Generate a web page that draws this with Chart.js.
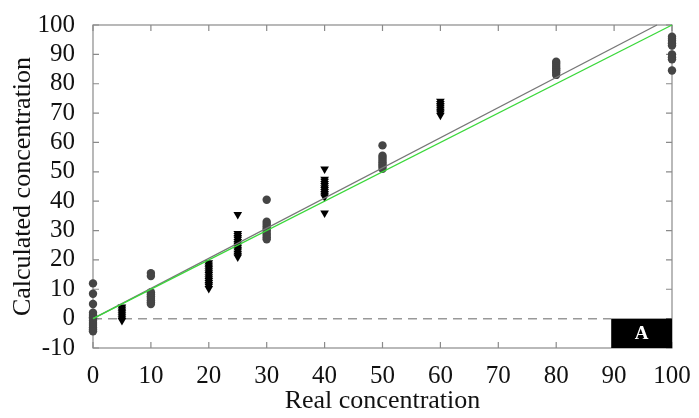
<!DOCTYPE html>
<html>
<head>
<meta charset="utf-8">
<script src="https://cdn.jsdelivr.net/npm/chart.js@4"></script>
<style>
  body { margin: 0; background: #fff; }
</style>
</head>
<body>
<canvas id="chartConcentration" width="699" height="418"></canvas>
<script>
// measured samples, grouped by real concentration
var circleLevels = [0, 10, 30, 50, 80, 100];
var circleValues = [
  [12, 8.5, 5, 2, 1.2, 0.5, 0, -0.7, -1.5, -2.2, -3, -3.7, -4.3],
  [15.5, 14.5, 9, 8.3, 7.6, 7, 6.3, 5.6, 5],
  [40.5, 33, 32.2, 31.5, 30.7, 30, 29.2, 28.5, 27.7, 27],
  [59, 55.5, 54.8, 54, 53.3, 52.5, 51.8, 51],
  [87.5, 86.8, 86, 85.3, 84.6, 83.8, 83],
  [96, 95.3, 94.6, 93.8, 93, 90, 89, 88.3, 84.5]
];
var triangleLevels = [5, 20, 25, 40, 60];
var triangleValues = [
  [4, 3.3, 2.6, 2, 1.3, 0.6, 0, -0.6],
  [19, 18.3, 17.6, 17, 16.3, 15.6, 15, 14.3, 13.6, 13, 12.3, 11.6, 11, 10.3],
  [35.5, 29, 28.3, 27.6, 27, 26.3, 25.6, 25, 24.3, 23.6, 23, 22.3, 21.6, 21],
  [51, 47.5, 46.8, 46, 45.3, 44.6, 44, 43.3, 42.6, 42, 41.4, 36],
  [74, 73.3, 72.6, 72, 71.3, 70.6, 70, 69.3]
];
// ideal line and fitted line
var idealLine = [{x: 0, y: 0}, {x: 100, y: 100}];
var fitLine = [{x: 0, y: 0}, {x: 97.4, y: 100}];
var xTicks = [0, 10, 20, 30, 40, 50, 60, 70, 80, 90, 100];
var yTicks = [-10, 0, 10, 20, 30, 40, 50, 60, 70, 80, 90, 100];
var panelLabel = 'A';

function toPoints(levels, values) {
  var pts = [];
  levels.forEach(function(lvl, i) {
    values[i].forEach(function(v) {
      pts.push({x: lvl, y: v});
    });
  });
  return pts;
}

var axisColor = '#8a8a8a';
var serif = '"Liberation Serif", "DejaVu Serif", serif';

// frame, inward ticks, zero line and the panel tag
var framePlugin = {
  id: 'frame',
  beforeDatasetsDraw: function(chart) {
    var ctx = chart.ctx;
    var xs = chart.scales.x, ys = chart.scales.y;
    var a = chart.chartArea;
    ctx.save();
    // dashed zero line
    ctx.strokeStyle = '#999';
    ctx.lineWidth = 1.5;
    ctx.setLineDash([9, 6]);
    ctx.beginPath();
    ctx.moveTo(xs.getPixelForValue(0), ys.getPixelForValue(0));
    ctx.lineTo(xs.getPixelForValue(89.5), ys.getPixelForValue(0));
    ctx.stroke();
    ctx.setLineDash([]);
    // box
    ctx.strokeStyle = axisColor;
    ctx.lineWidth = 1.2;
    ctx.strokeRect(a.left, a.top, a.right - a.left, a.bottom - a.top);
    ctx.beginPath();
    xTicks.forEach(function(t) {
      var px = xs.getPixelForValue(t);
      ctx.moveTo(px, a.bottom); ctx.lineTo(px, a.bottom - 6);
      ctx.moveTo(px, a.top); ctx.lineTo(px, a.top + 6);
    });
    yTicks.forEach(function(t) {
      var py = ys.getPixelForValue(t);
      ctx.moveTo(a.left, py); ctx.lineTo(a.left + 6, py);
      ctx.moveTo(a.right, py); ctx.lineTo(a.right - 6, py);
    });
    ctx.stroke();
    // black tag in the lower right corner
    var bx = xs.getPixelForValue(89.5), by = ys.getPixelForValue(0);
    ctx.fillStyle = '#000';
    ctx.fillRect(bx, by, a.right - bx, a.bottom - by);
    ctx.fillStyle = '#fff';
    ctx.font = 'bold 19px ' + serif;
    ctx.textAlign = 'center';
    ctx.textBaseline = 'middle';
    ctx.fillText(panelLabel, (bx + a.right) / 2, (by + a.bottom) / 2 + 1);
    ctx.restore();
  }
};

var ctx = document.getElementById('chartConcentration').getContext('2d');
new Chart(ctx, {
  type: 'scatter',
  data: {
    datasets: [{
      type: 'line',
      data: idealLine,
      borderColor: '#3ad83a',
      borderWidth: 1.3,
      pointRadius: 0,
      order: 0,
    }, {
      type: 'line',
      data: fitLine,
      borderColor: '#777',
      borderWidth: 1.3,
      pointRadius: 0,
      order: 1,
    }, {
      data: toPoints(circleLevels, circleValues),
      pointStyle: 'circle',
      pointRadius: 4.2,
      backgroundColor: '#454545',
      borderColor: '#454545',
      borderWidth: 0,
      order: 2,
    }, {
      data: toPoints(triangleLevels, triangleValues),
      pointStyle: 'triangle',
      rotation: 180,
      pointRadius: 5,
      backgroundColor: '#000',
      borderColor: '#000',
      borderWidth: 0,
      order: 2,
    }],
  },
  options: {
    responsive: false,
    animation: false,
    clip: false,
    layout: {padding: {top: 24, right: 27, left: 0, bottom: 0}},
    plugins: {legend: {display: false}, tooltip: {enabled: false}},
    scales: {
      x: {
        type: 'linear',
        min: 0,
        max: 100,
        afterFit: function(scale) { scale.height = 70; },
        afterBuildTicks: function(scale) {
          scale.ticks = xTicks.map(function(v) { return {value: v}; });
        },
        grid: {display: false},
        border: {display: false},
        ticks: {color: '#111', padding: 5, autoSkip: false, maxRotation: 0, font: {family: serif, size: 25}},
        title: {
          display: true,
          text: 'Real concentration',
          color: '#111',
          padding: {top: 0, bottom: 1},
          font: {family: serif, size: 26},
        },
      },
      y: {
        type: 'linear',
        min: -10,
        max: 100,
        afterFit: function(scale) { scale.width = 93; },
        afterBuildTicks: function(scale) {
          scale.ticks = yTicks.map(function(v) { return {value: v}; });
        },
        grid: {display: false},
        border: {display: false},
        ticks: {color: '#111', padding: 10, autoSkip: false, font: {family: serif, size: 25}},
        title: {
          display: true,
          text: 'Calculated concentration',
          color: '#111',
          padding: {top: 8, bottom: 0},
          font: {family: serif, size: 26},
        },
      },
    },
  },
  plugins: [framePlugin],
});
</script>
</body>
</html>
